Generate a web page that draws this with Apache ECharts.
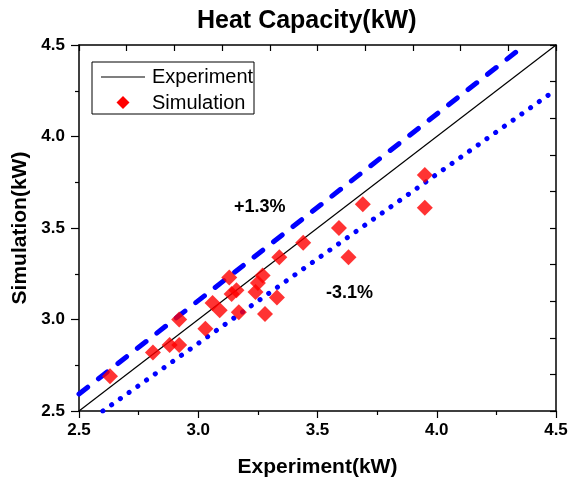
<!DOCTYPE html>
<html>
<head>
<meta charset="utf-8">
<script src="https://cdn.jsdelivr.net/npm/echarts@6/dist/echarts.min.js"></script>
<style>
html,body{margin:0;padding:0;background:#fff;}
#chart{width:571px;height:483px;}
</style>
</head>
<body>
<div id="chart"></div>
<script>
// ---- data ----
var simExperiment = [2.63, 2.81, 2.88, 2.92, 2.92, 3.03, 3.06, 3.09, 3.13, 3.14, 3.16, 3.17,
                     3.24, 3.25, 3.27, 3.28, 3.33, 3.34, 3.44, 3.59, 3.63, 3.69, 3.95, 3.95];
var simSimulation = [2.69, 2.82, 2.86, 2.86, 3.00, 2.95, 3.09, 3.05, 3.23, 3.14, 3.16, 3.04,
                     3.15, 3.20, 3.24, 3.03, 3.12, 3.34, 3.42, 3.50, 3.34, 3.63, 3.79, 3.61];
var experimentLineX = [2.5, 4.5];
var experimentLineY = [2.5, 4.5];
var upperLineX = [2.5, 4.37];
var upperLineY = [2.593, 4.5];
var lowerLineX = [2.6, 4.5];
var lowerLineY = [2.5, 4.256];
var upperLabel = '+1.3%';
var lowerLabel = '-3.1%';
var titleText = 'Heat Capacity(kW)';
var xTitle = 'Experiment(kW)';
var yTitle = 'Simulation(kW)';
var legendNames = ['Experiment', 'Simulation'];

function zip(a, b) { return a.map(function (v, i) { return [v, b[i]]; }); }

var FONT = 'Liberation Sans, Arial, sans-serif';
var chart = echarts.init(document.getElementById('chart'), null, {renderer: 'canvas'});

var axisLineStyle = {color: '#000', width: 1.5};
var labelFmt = function (v) { return v.toFixed(1); };

var option = {
  backgroundColor: '#fff',
  animation: false,
  title: {
    text: titleText,
    left: 192,
    top: 4,
    textStyle: {fontFamily: FONT, fontSize: 25, fontWeight: 'bold', color: '#000'}
  },
  grid: {left: 79, right: 15, top: 45, bottom: 72, containLabel: false},
  xAxis: [{
    type: 'value', min: 2.5, max: 4.5, interval: 0.5,
    position: 'bottom',
    name: xTitle, nameLocation: 'middle', nameGap: 46,
    nameTextStyle: {fontFamily: FONT, fontSize: 21, fontWeight: 'bold', color: '#000'},
    axisLine: {show: true, lineStyle: axisLineStyle},
    axisTick: {show: true, inside: false, length: 7, lineStyle: {color: '#000', width: 1.2}},
    minorTick: {show: true, splitNumber: 2, length: 4, lineStyle: {color: '#000', width: 1.2}},
    axisLabel: {fontFamily: FONT, fontSize: 17, fontWeight: 'bold', color: '#000', margin: 11, formatter: labelFmt},
    splitLine: {show: false}, minorSplitLine: {show: false}
  }, {
    type: 'value', min: 2.5, max: 4.5, interval: 0.2,
    position: 'top',
    axisLine: {show: true, lineStyle: axisLineStyle},
    axisTick: {show: true, inside: true, length: 6, lineStyle: {color: '#000', width: 1.2}},
    axisLabel: {show: false},
    splitLine: {show: false}
  }],
  yAxis: [{
    type: 'value', min: 2.5, max: 4.5, interval: 0.5,
    position: 'left',
    name: yTitle, nameLocation: 'middle', nameGap: 48,
    nameTextStyle: {fontFamily: FONT, fontSize: 21, fontWeight: 'bold', color: '#000'},
    axisLine: {show: true, lineStyle: axisLineStyle},
    axisTick: {show: true, inside: false, length: 8, lineStyle: {color: '#000', width: 1.2}},
    minorTick: {show: true, splitNumber: 2, length: 4, lineStyle: {color: '#000', width: 1.2}},
    axisLabel: {fontFamily: FONT, fontSize: 17, fontWeight: 'bold', color: '#000', margin: 14, formatter: labelFmt},
    splitLine: {show: false}, minorSplitLine: {show: false}
  }, {
    type: 'value', min: 2.5, max: 4.5, interval: 0.2,
    position: 'right',
    axisLine: {show: true, lineStyle: axisLineStyle},
    axisTick: {show: true, inside: true, length: 6, lineStyle: {color: '#000', width: 1.2}},
    axisLabel: {show: false},
    splitLine: {show: false}
  }],
  series: [{
    name: legendNames[0], type: 'line', xAxisIndex: 0, yAxisIndex: 0,
    data: zip(experimentLineX, experimentLineY),
    symbol: 'none', lineStyle: {color: '#000', width: 1.2}, z: 3
  }, {
    name: 'upper', type: 'line', xAxisIndex: 0, yAxisIndex: 0,
    data: zip(upperLineX, upperLineY),
    symbol: 'none', lineStyle: {color: '#0000FF', width: 5, type: [11, 13.7], cap: 'round'}, z: 2
  }, {
    name: 'lower', type: 'line', xAxisIndex: 0, yAxisIndex: 0,
    data: zip(lowerLineX, lowerLineY),
    symbol: 'none', lineStyle: {color: '#0000FF', width: 5, type: [0.1, 10.6], cap: 'round'}, z: 2
  }, {
    name: legendNames[1], type: 'scatter', xAxisIndex: 0, yAxisIndex: 0,
    data: zip(simExperiment, simSimulation),
    symbol: 'diamond', symbolSize: 16,
    itemStyle: {color: '#FF0000'}, z: 4
  }],
  graphic: [
    {type: 'rect', shape: {x: 92, y: 62, width: 162, height: 52}, style: {fill: '#fff', stroke: '#000', lineWidth: 1}, z: 10},
    {type: 'line', shape: {x1: 101, y1: 77, x2: 145, y2: 77}, style: {stroke: '#000', lineWidth: 1.2}, z: 11},
    {type: 'text', x: 152, y: 77, style: {text: legendNames[0], font: '20px ' + FONT, fill: '#000', verticalAlign: 'middle'}, z: 11},
    {type: 'polygon', shape: {points: [[123, 96], [129.5, 102.5], [123, 109], [116.5, 102.5]]}, style: {fill: '#FF0000'}, z: 11},
    {type: 'text', x: 152, y: 103, style: {text: legendNames[1], font: '20px ' + FONT, fill: '#000', verticalAlign: 'middle'}, z: 11},
    {type: 'text', x: 234, y: 207, style: {text: upperLabel, font: 'bold 18px ' + FONT, fill: '#000', verticalAlign: 'middle'}, z: 11},
    {type: 'text', x: 326, y: 293, style: {text: lowerLabel, font: 'bold 18px ' + FONT, fill: '#000', verticalAlign: 'middle'}, z: 11}
  ]
};
chart.setOption(option);
</script>
</body>
</html>
